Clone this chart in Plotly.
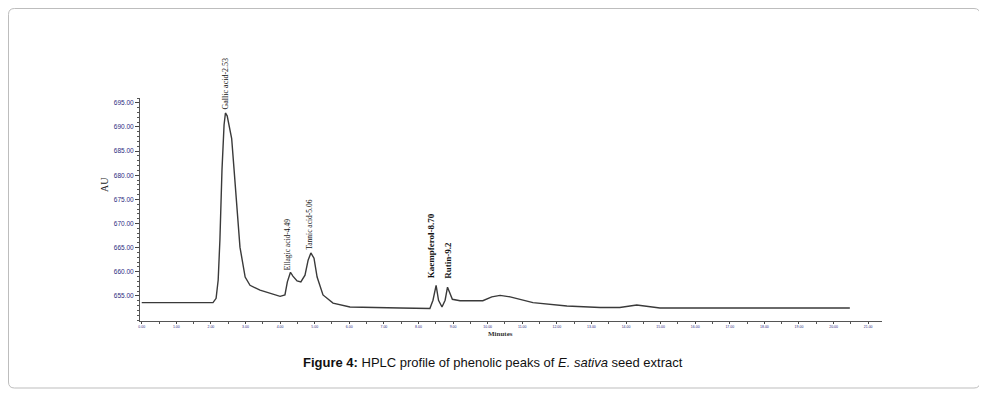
import plotly.graph_objects as go

# Chromatogram trace (retention time in minutes, detector signal in AU)
time_min = [0.00, 2.06, 2.15, 2.21, 2.26, 2.32, 2.38, 2.42, 2.47, 2.52, 2.60, 2.67, 2.75, 2.84,
            2.99, 3.13, 3.42, 3.71, 4.00, 4.14, 4.21, 4.30, 4.37, 4.49, 4.60, 4.72, 4.81, 4.89,
            4.98, 5.07, 5.24, 5.53, 6.02, 7.47, 8.33, 8.42, 8.51, 8.58, 8.68, 8.77, 8.84, 8.98,
            9.20, 9.86, 10.12, 10.36, 10.65, 11.31, 12.29, 13.25, 13.82, 14.31, 14.98, 20.47]
signal_au = [653.6, 653.6, 654.5, 658.3, 666.6, 681.1, 690.4, 692.9, 692.3, 690.6, 687.6, 681.1,
             673.4, 665.1, 658.9, 657.2, 656.2, 655.6, 654.9, 655.2, 657.9, 659.9, 659.1, 658.1,
             657.9, 659.3, 662.4, 663.9, 662.8, 658.9, 655.2, 653.5, 652.7, 652.5, 652.4, 654.1,
             657.2, 654.1, 652.7, 654.1, 656.8, 654.3, 654.0, 654.0, 654.8, 655.1, 654.8, 653.6,
             652.9, 652.6, 652.6, 653.1, 652.5, 652.5]

# Peak labels
peak_names = ["Gallic acid-2.53", "Ellagic acid-4.49", "Tannic acid-5.06",
              "<b>Kaempferol-8.70</b>", "<b>Rutin-9.2</b>"]
peak_label_x = [2.42, 4.20, 4.86, 8.37, 8.85]
peak_label_y = [693.3, 659.8, 664.2, 658.2, 658.2]
peak_label_size = [8, 7.5, 7.5, 9, 9]

x_ticks = list(range(0, 22))
x_tick_text = [f"{v}.00" for v in x_ticks]
y_ticks = [655, 660, 665, 670, 675, 680, 685, 690, 695]
y_tick_text = [f"{v}.00" for v in y_ticks]

OFF = 8  # page body margin
W, H = 987 - OFF, 395 - OFF
L = 140 - OFF
T = 98 - OFF
B = H - (321 - OFF)
R = W - (882 - OFF)
pw, ph = W - L - R, H - T - B

def px_to_paper_x(px):
    return (px - OFF - L) / pw

def py_to_paper_y(py):
    return (H - B - (py - OFF)) / ph

fig = go.Figure()
fig.add_trace(go.Scatter(x=time_min, y=signal_au, mode="lines",
                         line=dict(color="#3a3a3a", width=1.4), hoverinfo="skip",
                         showlegend=False))

for name, px, py, fs in zip(peak_names, peak_label_x, peak_label_y, peak_label_size):
    fig.add_annotation(x=px, y=py, text=name, textangle=-90, showarrow=False,
                       xanchor="center", yanchor="bottom",
                       font=dict(family="Liberation Serif", size=fs, color="#111111"))

# axis titles
fig.add_annotation(x=px_to_paper_x(104), y=py_to_paper_y(185), xref="paper", yref="paper",
                   text="AU", textangle=-90, showarrow=False, xanchor="center", yanchor="middle",
                   font=dict(family="Liberation Serif", size=10, color="#222222"))
fig.add_annotation(x=px_to_paper_x(500), y=py_to_paper_y(334), xref="paper", yref="paper",
                   text="<b>Minutes</b>", showarrow=False, xanchor="center", yanchor="middle",
                   font=dict(family="Liberation Serif", size=7, color="#333333"))

# caption
fig.add_annotation(x=px_to_paper_x(493), y=py_to_paper_y(362), xref="paper", yref="paper",
                   text="<b>Figure 4:</b> HPLC profile of phenolic peaks of <i>E. sativa</i> seed extract",
                   showarrow=False, xanchor="center", yanchor="middle",
                   font=dict(family="Liberation Sans", size=13, color="#111111"))

# rounded frame
x0, x1 = px_to_paper_x(OFF + 0.5), px_to_paper_x(980)
y0, y1 = py_to_paper_y(388), py_to_paper_y(OFF + 0.5)
rx, ry = 6 / pw, 6 / ph
path = (f"M {x0+rx},{y0} L {x1-rx},{y0} Q {x1},{y0} {x1},{y0+ry} L {x1},{y1-ry} "
        f"Q {x1},{y1} {x1-rx},{y1} L {x0+rx},{y1} Q {x0},{y1} {x0},{y1-ry} "
        f"L {x0},{y0+ry} Q {x0},{y0} {x0+rx},{y0} Z")
fig.add_shape(type="path", path=path, xref="paper", yref="paper",
              line=dict(color="#bdbdbd", width=1))

fig.update_layout(
    width=W, height=H,
    margin=dict(l=L, r=R, t=T, b=B),
    paper_bgcolor="white", plot_bgcolor="white",
    xaxis=dict(range=[-0.05, 21.4], showgrid=False, zeroline=False,
               showline=True, linecolor="#555555", linewidth=1,
               tickmode="array", tickvals=x_ticks, ticktext=x_tick_text,
               ticks="outside", ticklen=2, tickcolor="#444444",
               tickfont=dict(family="Liberation Sans", size=3.5, color="#2b2b80"),
               minor=dict(dtick=0.5, ticks="outside", ticklen=1.5, tickcolor="#555555")),
    yaxis=dict(range=[649.8, 696.0], showgrid=False, zeroline=False,
               showline=True, linecolor="#555555", linewidth=1,
               tickmode="array", tickvals=y_ticks, ticktext=y_tick_text,
               ticks="outside", ticklen=4, tickcolor="#444444",
               tickfont=dict(family="Liberation Sans", size=6.5, color="#2b2b80"),
               minor=dict(dtick=1, ticks="outside", ticklen=2.5, tickcolor="#555555")),
)

fig.write_html("out.html")
